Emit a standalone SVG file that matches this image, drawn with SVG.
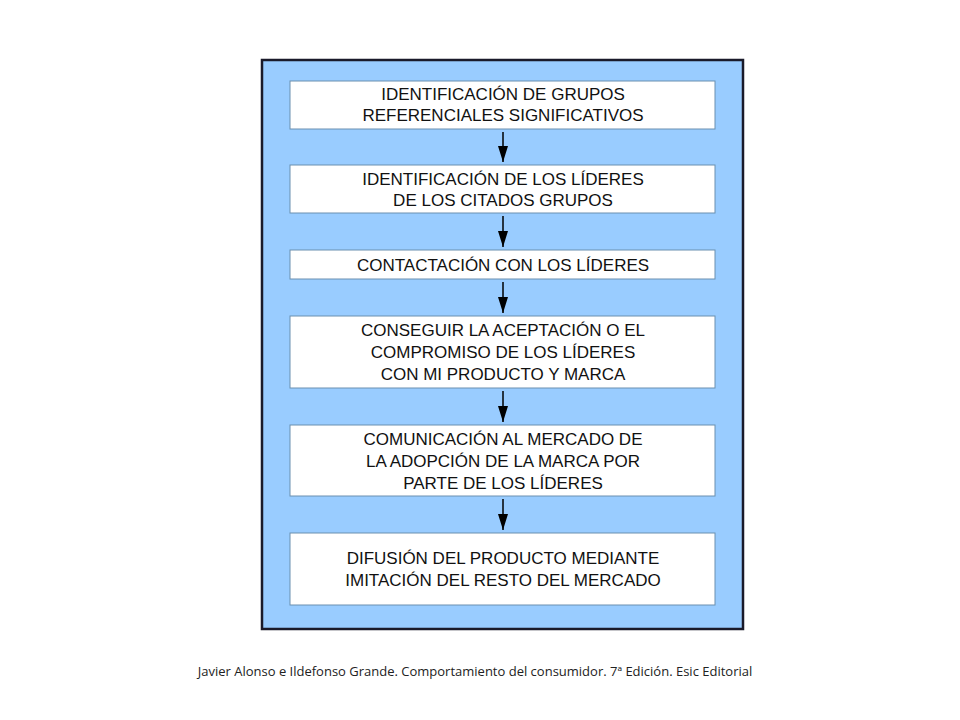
<svg xmlns="http://www.w3.org/2000/svg" width="960" height="720" viewBox="0 0 960 720">
<style>
.box{fill:#fff;stroke:#6a8fb0;stroke-width:1}
.t{font-family:"Liberation Sans",Arial,sans-serif;font-size:17px;fill:#111;text-anchor:middle}
.c{stroke:#000;stroke-width:1.5;fill:none}
.cap{font-family:"Open Sans","Liberation Sans",sans-serif;font-size:13px;fill:#222;text-anchor:middle}
</style>
<defs><marker id="a" markerWidth="10" markerHeight="14" refX="5" refY="14" orient="auto-start-reverse" markerUnits="userSpaceOnUse" viewBox="0 0 10 14"><path d="M0,0 L10,0 L5,14Z" fill="#000" transform="rotate(-90 5 7)"/></marker>
<marker id="b" markerWidth="10" markerHeight="16" refX="5" refY="16" markerUnits="userSpaceOnUse" viewBox="0 0 10 16" orient="0"><path d="M0,0 L10,0 L5,16Z" fill="#000"/></marker></defs>
<rect x="0" y="0" width="960" height="720" fill="#fff"/>
<rect x="262" y="60" width="481" height="569" fill="#99ccff" stroke="#1a1a2a" stroke-width="2.5"/>
<g id="n1"><rect class="box" x="290" y="81" width="425" height="48"/><text class="t" x="503" y="100">IDENTIFICACIÓN DE GRUPOS</text><text class="t" x="503" y="121">REFERENCIALES SIGNIFICATIVOS</text></g>
<g id="n2"><rect class="box" x="290" y="165" width="425" height="48"/><text class="t" x="503" y="185">IDENTIFICACIÓN DE LOS LÍDERES</text><text class="t" x="503" y="206">DE LOS CITADOS GRUPOS</text></g>
<g id="n3"><rect class="box" x="290" y="250" width="425" height="29"/><text class="t" x="503" y="271">CONTACTACIÓN CON LOS LÍDERES</text></g>
<g id="n4"><rect class="box" x="290" y="316" width="425" height="72"/><text class="t" x="503" y="336">CONSEGUIR LA ACEPTACIÓN O EL</text><text class="t" x="503" y="358">COMPROMISO DE LOS LÍDERES</text><text class="t" x="503" y="380">CON MI PRODUCTO Y MARCA</text></g>
<g id="n5"><rect class="box" x="290" y="425" width="425" height="71"/><text class="t" x="503" y="445">COMUNICACIÓN AL MERCADO DE</text><text class="t" x="503" y="467">LA ADOPCIÓN DE LA MARCA POR</text><text class="t" x="503" y="489">PARTE DE LOS LÍDERES</text></g>
<g id="n6"><rect class="box" x="290" y="533" width="425" height="72"/><text class="t" x="503" y="564">DIFUSIÓN DEL PRODUCTO MEDIANTE</text><text class="t" x="503" y="586">IMITACIÓN DEL RESTO DEL MERCADO</text></g>
<g id="connectors">
<line class="c" x1="503" y1="132" x2="503" y2="162" marker-end="url(#b)"/>
<line class="c" x1="503" y1="216" x2="503" y2="247" marker-end="url(#b)"/>
<line class="c" x1="503" y1="282" x2="503" y2="313" marker-end="url(#b)"/>
<line class="c" x1="503" y1="391" x2="503" y2="422" marker-end="url(#b)"/>
<line class="c" x1="503" y1="499" x2="503" y2="530" marker-end="url(#b)"/>
</g>
<text class="cap" x="475" y="676">Javier Alonso e Ildefonso Grande. Comportamiento del consumidor. 7ª Edición. Esic Editorial</text>
</svg>
